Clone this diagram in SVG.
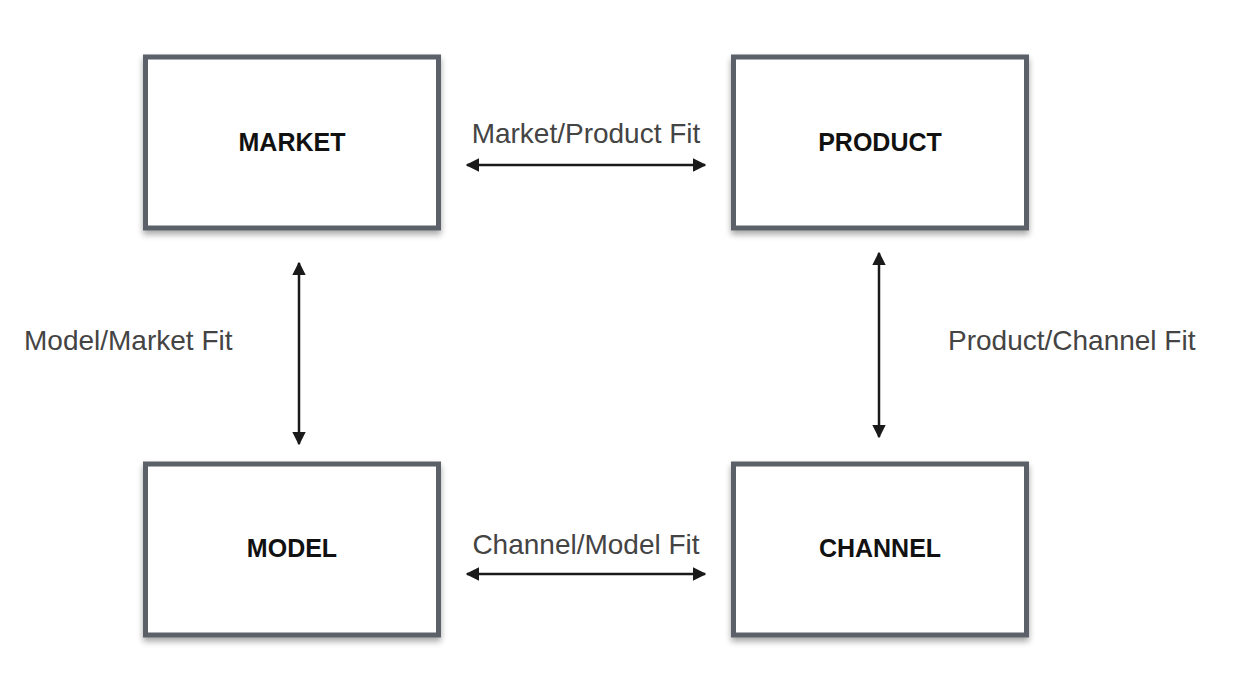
<svg xmlns="http://www.w3.org/2000/svg" width="1238" height="688" viewBox="0 0 1238 688">
<style>
.box{fill:#fff;stroke:#5b6067;stroke-width:5}
.name{font-family:"Liberation Sans",Arial,sans-serif;font-weight:bold;font-size:25px;fill:#111;text-anchor:middle}
.lbl{font-family:"Liberation Sans",Arial,sans-serif;font-size:28px;fill:#444}
.conn{stroke:#1a1a1a;stroke-width:2.5;fill:none;marker-start:url(#ah);marker-end:url(#ah)}
</style>
<defs>
<marker id="ah" viewBox="0 0 10 10" refX="9" refY="5" markerWidth="5.5" markerHeight="5.5" orient="auto-start-reverse">
<path d="M0,0 L10,5 L0,10 z" fill="#1a1a1a"/>
</marker>
<filter id="sh" x="-10%" y="-10%" width="120%" height="130%">
<feGaussianBlur in="SourceAlpha" stdDeviation="3"/>
<feOffset dy="4"/>
<feComponentTransfer><feFuncA type="linear" slope="0.35"/></feComponentTransfer>
<feMerge><feMergeNode/><feMergeNode in="SourceGraphic"/></feMerge>
</filter>
</defs>
<rect width="1238" height="688" fill="#fff"/>
<g id="market">
<rect class="box" x="145.5" y="57" width="293" height="171" filter="url(#sh)"/>
<text class="name" x="292" y="151">MARKET</text>
</g>
<g id="product">
<rect class="box" x="733.5" y="57" width="293" height="171" filter="url(#sh)"/>
<text class="name" x="880" y="151">PRODUCT</text>
</g>
<g id="model">
<rect class="box" x="145.5" y="464" width="293" height="171" filter="url(#sh)"/>
<text class="name" x="292" y="557">MODEL</text>
</g>
<g id="channel">
<rect class="box" x="733.5" y="464" width="293" height="171" filter="url(#sh)"/>
<text class="name" x="880" y="557">CHANNEL</text>
</g>
<g id="connectors">
<line class="conn" x1="467" y1="165" x2="705" y2="165"/>
<line class="conn" x1="467" y1="574" x2="705" y2="574"/>
<line class="conn" x1="299" y1="263" x2="299" y2="444"/>
<line class="conn" x1="879" y1="253" x2="879" y2="437"/>
</g>
<g id="labels">
<text class="lbl" x="586" y="143" text-anchor="middle">Market/Product Fit</text>
<text class="lbl" x="586" y="554" text-anchor="middle">Channel/Model Fit</text>
<text class="lbl" x="24" y="350">Model/Market Fit</text>
<text class="lbl" x="948" y="350">Product/Channel Fit</text>
</g>
</svg>
